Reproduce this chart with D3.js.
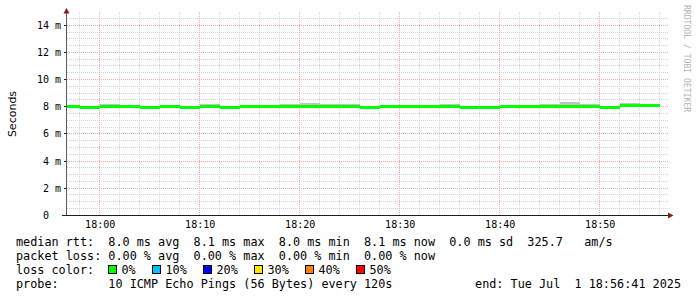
<!DOCTYPE html>
<html><head><meta charset="utf-8">
<script src="https://cdn.jsdelivr.net/npm/d3@7"></script>
<style>
html,body{margin:0;padding:0;background:#fff;}
svg{display:block;}
text{white-space:pre;}
</style></head>
<body>
<svg id="chart" width="697" height="297"></svg>
<script>
// ---- data ----
const stepStarts = ["17:56","17:58","18:00","18:02","18:04","18:06","18:08","18:10","18:12","18:14",
                    "18:16","18:18","18:20","18:22","18:24","18:26","18:28","18:30","18:32","18:34",
                    "18:36","18:38","18:40","18:42","18:44","18:46","18:48","18:50","18:52","18:54"];
const medianMs  = [8.04,8.00,8.03,8.02,8.00,8.05,8.00,8.05,8.00,8.02,
                   8.03,8.02,8.07,8.02,8.02,8.00,8.05,8.05,8.06,8.03,
                   8.00,8.00,8.03,8.03,8.03,8.07,8.03,8.00,8.10,8.10];
const smokeHiMs = [8.04,8.00,8.20,8.02,8.07,8.05,8.00,8.20,8.00,8.02,
                   8.03,8.22,8.30,8.20,8.22,8.05,8.05,8.05,8.06,8.22,
                   8.00,8.00,8.03,8.15,8.22,8.37,8.20,8.00,8.30,8.22];
const smokeLoMs = [8.04,8.00,8.03,8.02,8.00,8.05,8.00,8.05,7.93,8.02,
                   8.03,8.02,8.07,8.02,8.02,7.90,8.05,8.05,8.06,8.03,
                   7.95,7.92,8.03,8.03,8.03,8.07,8.03,7.95,8.10,8.10];
const stepSeconds = 120;
const yTickValues = [0,2,4,6,8,10,12,14];
const yTickLabels = ["0  ","2 m","4 m","6 m","8 m","10 m","12 m","14 m"];
const xTickLabels = ["18:00","18:10","18:20","18:30","18:40","18:50"];
const lossLabels = ["0%","10%","20%","30%","40%","50%"];
const lossColors = ["#00ff00","#00bfff","#0000ff","#ffe600","#ff8000","#ff0000"];
const legendLines = [
  "median rtt:  8.0 ms avg  8.1 ms max  8.0 ms min  8.1 ms now  0.0 ms sd  325.7   am/s",
  "packet loss: 0.00 % avg  0.00 % max  0.00 % min  0.00 % now",
  "loss color:",
  "probe:       10 ICMP Echo Pings (56 Bytes) every 120s"
];
const endText = "end: Tue Jul  1 18:56:41 2025";
const tStart = new Date(2025,6,1,17,56,41), tEnd = new Date(2025,6,1,18,56,41);

// ---- layout ----
const svg = d3.select("#chart");
const pLeft = 66.5, pRight = 666.5, pBottom = 215.3, pTop = 11.7;
const x = d3.scaleTime().domain([tStart,tEnd]).range([pLeft,pRight]);
const y = d3.scaleLinear().domain([0,15]).range([pBottom,pTop]);
const mono = "'DejaVu Sans Mono', monospace";
const crisp = v => Math.floor(v)+0.5;
const parseT = s => { const [h,m]=s.split(":").map(Number); return new Date(2025,6,1,h,m,0); };

const gridColor = "#d2d2d2", mgridColor = "#eaa8a8";
const g = svg.append("g");

const hMinor = d3.range(1,30).map(k=>k*0.5).filter(v=>v%2!==0);
g.selectAll(".hmin").data(hMinor).enter().append("line")
  .attr("x1",67).attr("x2",669).attr("y1",d=>crisp(y(d))).attr("y2",d=>crisp(y(d)))
  .attr("stroke",gridColor).attr("stroke-dasharray","1,1");
const vMinor = d3.timeMinute.every(2).range(tStart,tEnd).filter(d=>d.getMinutes()%10!==0);
g.selectAll(".vmin").data(vMinor).enter().append("line")
  .attr("x1",d=>crisp(x(d))).attr("x2",d=>crisp(x(d))).attr("y1",12).attr("y2",215)
  .attr("stroke",gridColor).attr("stroke-dasharray","1,1");
g.selectAll(".hmaj").data(yTickValues.filter(v=>v>0)).enter().append("line")
  .attr("x1",67).attr("x2",669).attr("y1",d=>crisp(y(d))).attr("y2",d=>crisp(y(d)))
  .attr("stroke",mgridColor).attr("stroke-dasharray","1,1");
const vMajor = xTickLabels.map(parseT);
g.selectAll(".vmaj").data(vMajor).enter().append("line")
  .attr("x1",d=>crisp(x(d))).attr("x2",d=>crisp(x(d))).attr("y1",12).attr("y2",215)
  .attr("stroke",mgridColor).attr("stroke-dasharray","1,1");

// ---- data marks ----
svg.append("clipPath").attr("id","plotclip").append("rect")
  .attr("x",67).attr("y",pTop).attr("width",pRight-67).attr("height",pBottom-pTop);
const dg = svg.append("g").attr("clip-path","url(#plotclip)").attr("shape-rendering","crispEdges");
const steps = stepStarts.map((s,i)=>({t0:parseT(s), t1:new Date(parseT(s).getTime()+stepSeconds*1000),
  med:medianMs[i], hi:smokeHiMs[i], lo:smokeLoMs[i]}));
dg.selectAll(".smoke").data(steps).enter().append("rect")
  .attr("x",d=>x(d.t0)).attr("width",d=>x(d.t1)-x(d.t0))
  .attr("y",d=>y(d.hi)).attr("height",d=>Math.max(0,y(d.lo)-y(d.hi)))
  .attr("fill","#c2c2c2");
dg.selectAll(".med").data(steps).enter().append("rect")
  .attr("x",d=>x(d.t0)).attr("width",d=>x(d.t1)-x(d.t0))
  .attr("y",d=>Math.round(y(d.med))-1.5).attr("height",3)
  .attr("fill",lossColors[0]);

// ---- axes ----
svg.append("line").attr("x1",66.5).attr("x2",66.5).attr("y1",215).attr("y2",12)
  .attr("stroke","#5a5a5a");
svg.append("line").attr("x1",62).attr("x2",668).attr("y1",215.5).attr("y2",215.5)
  .attr("stroke","#1f1f1f");
svg.append("path").attr("d","M63.5,13.5 L66.5,8 L69.5,13.5 Z").attr("fill","#7f1f1f");
svg.append("path").attr("d","M668,212.5 L673.5,215.5 L668,218.5 Z").attr("fill","#7f1f1f");
svg.selectAll(".yt").data(yTickValues).enter().append("line")
  .attr("x1",64).attr("x2",66).attr("y1",d=>crisp(y(d))).attr("y2",d=>crisp(y(d)))
  .attr("stroke","#1f1f1f");

svg.selectAll(".yl").data(yTickValues).enter().append("text")
  .attr("x",61).attr("y",d=>y(d)+3.6).attr("text-anchor","end")
  .attr("font-family",mono).attr("font-size","10px").attr("fill","#000")
  .text((d,i)=>yTickLabels[i]);
svg.selectAll(".xl").data(vMajor).enter().append("text")
  .attr("x",d=>x(d)+0.5).attr("y",227.8).attr("text-anchor","middle")
  .attr("font-family",mono).attr("font-size","10px").attr("fill","#000")
  .text((d,i)=>xTickLabels[i]);

svg.append("text").attr("transform","translate(15.5,114) rotate(-90)")
  .attr("text-anchor","middle").attr("font-family","'DejaVu Sans', sans-serif")
  .attr("font-size","11px").attr("fill","#000").text("Seconds");
svg.append("text").attr("transform","translate(683.5,5) rotate(90)")
  .attr("font-family",mono).attr("font-size","8.1px").attr("fill","#b4b4b4")
  .text("RRDTOOL / TOBI OETIKER");

// ---- legend ----
const lfs = "11.8px";
const baselines = [245.5,259.5,273.5,287.5];
svg.selectAll(".leg").data(legendLines).enter().append("text")
  .attr("x",16).attr("y",(d,i)=>baselines[i])
  .attr("font-family",mono).attr("font-size",lfs).attr("fill","#000")
  .text(d=>d);
svg.append("text").attr("x",681).attr("y",baselines[3]).attr("text-anchor","end")
  .attr("font-family",mono).attr("font-size",lfs).attr("fill","#000").text(endText);
const boxX = [108.5,152.5,203.5,254.5,305.5,356.5];
const lg = svg.append("g");
lossLabels.forEach((lab,i)=>{
  lg.append("rect").attr("x",boxX[i]).attr("y",265.5).attr("width",8).attr("height",8)
    .attr("fill",lossColors[i]).attr("stroke","#000").attr("stroke-width",1);
  lg.append("text").attr("x",boxX[i]+13).attr("y",baselines[2])
    .attr("font-family",mono).attr("font-size",lfs).attr("fill","#000").text(lab);
});
</script>
</body></html>
